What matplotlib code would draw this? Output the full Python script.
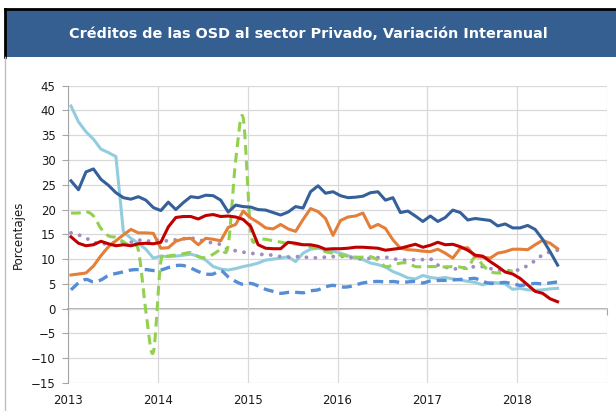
import matplotlib
matplotlib.use("Agg")
import matplotlib.pyplot as plt
from matplotlib.patches import Rectangle
from matplotlib.lines import Line2D
import numpy as np

# series mensuales, ene-2013 a jun-2018
azul = [25.8, 24.0, 27.6, 28.2, 26.1, 24.9, 23.4, 22.4, 22.1, 22.6, 21.9, 20.4,
        19.8, 21.5, 20.0, 21.4, 22.6, 22.4, 22.9, 22.8, 21.9, 19.5, 20.9, 20.6,
        20.5, 20.0, 19.9, 19.4, 18.9, 19.5, 20.6, 20.3, 23.6, 24.8, 23.3, 23.6,
        22.8, 22.4, 22.5, 22.7, 23.4, 23.6, 21.9, 22.4, 19.4, 19.7, 18.7, 17.6,
        18.7, 17.6, 18.4, 19.9, 19.4, 17.9, 18.2, 18.0, 17.8, 16.7, 17.1, 16.3,
        16.3, 16.8, 16.0, 14.0, 11.5, 8.8]
rojo = [14.5, 13.2, 12.7, 12.9, 13.6, 13.1, 12.7, 12.9, 12.7, 13.1, 13.2, 13.1,
        13.4, 16.5, 18.4, 18.6, 18.6, 18.1, 18.8, 19.0, 18.6, 18.7, 18.5, 18.0,
        16.6, 12.9, 12.2, 12.1, 12.1, 13.4, 13.2, 12.9, 12.9, 12.6, 12.0, 12.1,
        12.1, 12.2, 12.4, 12.4, 12.3, 12.2, 11.8, 12.0, 12.2, 12.6, 13.0, 12.4,
        12.8, 13.4, 12.9, 13.0, 12.5, 11.8, 10.8, 10.6, 9.5, 8.5, 7.4, 7.0,
        6.1, 4.8, 3.5, 3.1, 2.0, 1.4]
naranja = [6.8, 7.0, 7.2, 8.6, 10.7, 12.5, 13.7, 14.9, 16.0, 15.3, 15.3, 15.2,
           12.2, 12.3, 13.6, 14.1, 14.2, 12.9, 14.2, 14.0, 13.7, 16.4, 17.0, 19.7,
           18.3, 17.4, 16.3, 16.1, 17.0, 16.1, 15.6, 18.0, 20.2, 19.6, 18.2, 14.8,
           17.8, 18.5, 18.7, 19.3, 16.3, 17.0, 16.2, 13.9, 12.2, 11.9, 11.8, 11.6,
           11.5, 12.0, 11.2, 10.2, 12.2, 12.3, 10.5, 10.4, 10.2, 11.2, 11.5, 12.0,
           12.0, 11.9, 12.9, 13.8, 13.2, 12.1]
celeste = [40.9, 37.7, 35.7, 34.2, 32.2, 31.5, 30.7, 15.5, 14.2, 13.2, 12.0, 10.2,
           10.6, 10.5, 10.6, 10.8, 11.0, 10.6, 9.8, 8.5, 8.0, 7.8, 8.1, 8.5,
           8.8, 9.2, 9.8, 10.0, 10.2, 10.5, 9.5, 11.2, 12.0, 12.2, 11.9, 11.6,
           11.2, 10.7, 10.2, 9.9, 9.2, 8.9, 8.4, 7.5, 6.9, 6.2, 6.0, 6.7,
           6.3, 6.1, 6.3, 6.0, 5.8, 5.5, 5.3, 4.8, 5.3, 5.2, 5.0, 3.9,
           4.1, 3.8, 3.7, 3.8, 4.0, 4.1]
# verde termina en dic-2017
verde = [19.3, 19.3, 19.6, 18.7, 16.2, 14.7, 14.4, 13.5, 12.5, 11.8, -0.5, -8.8,
         9.5, 10.6, 10.8, 11.1, 11.3, 10.5, 10.3, 11.0, 12.0, 12.8, 30.0, 38.5,
         15.5, 14.2, 14.0, 13.7, 13.4, 13.2, 13.0, 12.9, 12.5, 12.2, 11.5, 11.2,
         10.8, 10.6, 10.4, 10.4, 10.5, 9.8, 8.5, 8.8, 9.2, 9.2, 8.5, 8.5,
         8.5, 8.5, 8.4, 8.5, 8.4, 8.2, 10.5, 8.8, 7.5, 7.2, 7.3, 7.7]
morado = [15.3, 14.9, 14.3, 13.3, 13.1, 13.1, 13.4, 13.5, 13.4, 13.9, 13.5, 13.9,
          13.7, 13.7, 13.9, 14.1, 14.3, 13.9, 13.6, 13.2, 13.0, 11.8, 11.7, 11.4,
          11.2, 11.0, 10.9, 10.8, 10.5, 10.4, 10.5, 10.5, 10.2, 10.3, 10.4, 10.5,
          10.6, 10.4, 10.2, 10.0, 10.2, 10.3, 10.4, 10.1, 9.8, 9.8, 9.9, 9.9,
          10.1, 8.8, 8.4, 8.0, 8.1, 8.3, 8.5, 8.5, 8.1, 7.8, 7.7, 7.6,
          7.9, 8.7, 9.7, 10.9, 11.5, 11.8]
azul_claro = [3.8, 5.2, 5.9, 5.4, 5.8, 6.7, 7.1, 7.4, 7.8, 7.9, 7.9, 7.7,
              7.8, 8.3, 8.7, 8.7, 8.2, 7.5, 7.0, 7.0, 7.7, 6.4, 5.5, 4.9,
              5.1, 4.6, 3.9, 3.5, 3.1, 3.3, 3.3, 3.2, 3.6, 3.8, 4.4, 4.7,
              4.4, 4.4, 4.8, 5.2, 5.4, 5.5, 5.4, 5.5, 5.3, 5.4, 5.5, 5.2,
              5.6, 5.7, 5.7, 5.8, 5.9, 6.0, 6.1, 5.5, 5.1, 5.2, 5.3, 5.0,
              4.7, 4.9, 5.1, 5.0, 5.2, 5.4]

anios = [2013, 2014, 2015, 2016, 2017, 2018, 2019]
etiquetas_x = ['2013', '2014', '2015', '2016', '2017', '2018', '']
ticks_y = list(range(-15, 50, 5))


def fechas(n):
    return 2013 + (np.arange(n) + 0.4) / 12


def suave(x, y, n=12):
    # curva suavizada tipo Catmull-Rom que pasa por cada punto
    x = np.asarray(x, float)
    y = np.asarray(y, float)
    xs, ys = [], []
    t = np.linspace(0, 1, n, endpoint=False)
    for k in range(len(x) - 1):
        k0 = max(k - 1, 0)
        k3 = min(k + 2, len(x) - 1)
        for arr, out in ((x, xs), (y, ys)):
            p0, p1, p2, p3 = arr[k0], arr[k], arr[k + 1], arr[k3]
            out.append(0.5 * (2 * p1 + (-p0 + p2) * t
                              + (2 * p0 - 5 * p1 + 4 * p2 - p3) * t ** 2
                              + (-p0 + 3 * p1 - 3 * p2 + p3) * t ** 3))
    xs.append([x[-1]])
    ys.append([y[-1]])
    return np.concatenate(xs), np.concatenate(ys)


fig = plt.figure(figsize=(6.16, 4.11), dpi=100)
ax = fig.add_axes([0.1104, 0.0681, 0.8750, 0.7234])

# banda del titulo
fig.add_artist(Rectangle((0.0085, 0.861), 1.0, 0.117, transform=fig.transFigure,
                         facecolor='#365f91', edgecolor='none'))
fig.add_artist(Line2D([0.0085, 1.0], [0.978, 0.978], transform=fig.transFigure,
                      color='black', lw=2))
fig.add_artist(Line2D([0.0085, 0.0085], [0.861, 0.978], transform=fig.transFigure,
                      color='black', lw=2))
fig.add_artist(Line2D([0.0085, 0.0085], [0.0, 0.861], transform=fig.transFigure,
                      color='#bfbfbf', lw=1))
fig.text(0.5, 0.917, 'Créditos de las OSD al sector Privado, Variación Interanual',
         color='white', fontsize=10.4, fontweight='bold', ha='center', va='center',
         family='DejaVu Sans')

ax.plot(fechas(len(celeste)), celeste, color='#93cddd', lw=2.2, zorder=3)
x, y = suave(fechas(len(azul_claro)), azul_claro)
ax.plot(x, y, color='#558ed5', lw=2.4, linestyle=(0, (3.0, 1.8)), zorder=3)
ax.plot(fechas(len(morado)), morado, color='#a18cc2', lw=2.8,
        linestyle=(0, (0.01, 2.3)), dash_capstyle='round', zorder=3)
x, y = suave(fechas(len(verde)), verde)
ax.plot(x, y, color='#92d050', lw=2.2, linestyle=(0, (3.2, 1.9)), zorder=3)
ax.plot(fechas(len(naranja)), naranja, color='#e47f3a', lw=2.2, zorder=4)
ax.plot(fechas(len(rojo)), rojo, color='#c00000', lw=2.2, zorder=4)
ax.plot(fechas(len(azul)), azul, color='#36609a', lw=2.2, zorder=5)

ax.set_xlim(2013, 2019)
ax.set_ylim(-15, 45)
ax.set_yticks(ticks_y)
ax.set_xticks(anios)
ax.set_xticklabels(etiquetas_x)
ax.grid(True, color='#d9d9d9', lw=0.9)
ax.set_axisbelow(True)
for s in ['top', 'right', 'bottom']:
    ax.spines[s].set_visible(False)
ax.spines['left'].set_color('#a6a6a6')
ax.tick_params(axis='y', length=4, color='#a6a6a6', labelsize=8.5, pad=5,
               labelcolor='#1a1a1a')
ax.tick_params(axis='x', length=0, labelsize=8.5, pad=8, labelcolor='#1a1a1a')
ax.set_ylabel('Porcentajes', fontsize=8.5, labelpad=4, color='#1a1a1a')

# eje horizontal en cero con sus marcas
eje0 = ax.secondary_xaxis(0.25)
eje0.set_xticks(anios)
eje0.set_xticklabels([])
eje0.spines['bottom'].set_color('#a6a6a6')
eje0.spines['bottom'].set_linewidth(1.2)
eje0.tick_params(length=4, color='#a6a6a6')

plt.savefig('out.png', dpi=100)
